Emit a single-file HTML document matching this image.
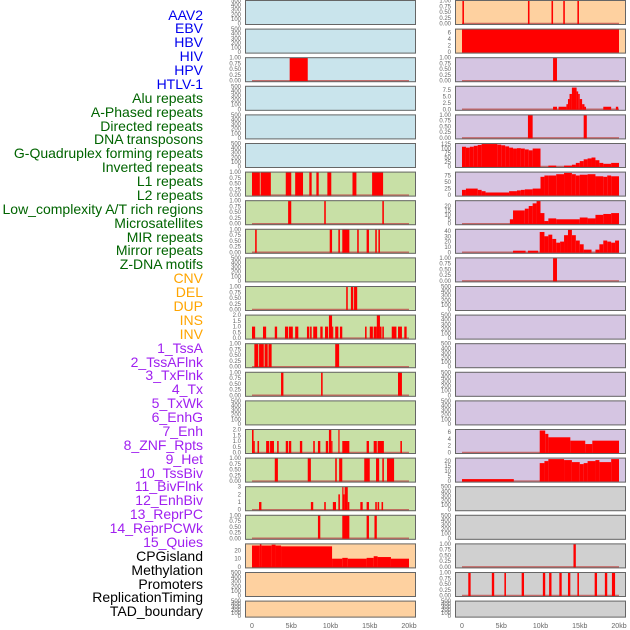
<!DOCTYPE html>
<html><head><meta charset="utf-8"><style>
body{margin:0;width:630px;height:630px;background:#fff;overflow:hidden;position:relative;font-family:"Liberation Sans",sans-serif}
.lb{position:absolute;right:427px;font-size:14px;line-height:14px;white-space:nowrap}
svg{position:absolute;left:0;top:0}
</style></head><body>
<div id="labels"></div>
<svg id="chart" width="630" height="630"></svg>
<script>
const labelNames=["AAV2","EBV","HBV","HIV","HPV","HTLV-1","Alu repeats","A-Phased repeats","Directed repeats","DNA transposons","G-Quadruplex forming repeats","Inverted repeats","L1 repeats","L2 repeats","Low_complexity A/T rich regions","Microsatellites","MIR repeats","Mirror repeats","Z-DNA motifs","CNV","DEL","DUP","INS","INV","1_TssA","2_TssAFlnk","3_TxFlnk","4_Tx","5_TxWk","6_EnhG","7_Enh","8_ZNF_Rpts","9_Het","10_TssBiv","11_BivFlnk","12_EnhBiv","13_ReprPC","14_ReprPCWk","15_Quies","CPGisland","Methylation","Promoters","ReplicationTiming","TAD_boundary"];
const labelGroups=[6,13,5,15,5];
const groupColors=["#0000ee","#006400","#ffa500","#a020f0","#000000"];
const xTicks=[0,5,10,15,20];
const xTickLabels=["0","5kb","10kb","15kb","20kb"];
const emptyTicks=[0,100,200,300,400,500];
const unitTicks=[0,0.25,0.5,0.75,1];
// data: [startKb,endKb,value]
const L2=[[4.8,7.1,1]];
const L6=[[0,1.0,1],[1.1,2.4,1],[4.3,5.0,1],[5.5,6.5,1],[7.3,7.6,1],[8.2,8.5,1],[9.6,10.1,1],[12.8,13.3,1],[15.3,16.7,1]];
const L7=[[4.6,5.0,1],[9.2,9.4,1],[16.6,16.8,1]];
const L8=[[0.4,0.6,1],[9.9,10.2,1],[11.0,11.2,1],[11.5,12.4,1],[13.4,13.6,1],[14.6,14.9,1],[15.7,15.9,1],[16.1,16.3,1]];
const L10=[[12.0,12.2,1],[12.6,12.9,1],[13.0,13.4,1]];
const L11=[[0,0.4,1],[1.4,1.8,1],[2.9,3.2,1],[4.2,4.6,1],[4.7,5.2,1],[5.5,5.9,1],[7.0,7.3,1],[7.4,7.6,1],[7.8,8.3,1],[8.7,9.0,1],[9.3,9.7,1],[9.8,10.2,2],[10.2,10.3,1],[10.6,11.0,1],[11.2,11.5,1],[14.4,14.6,1],[15.0,15.4,1],[15.5,15.9,1],[15.9,16.3,2],[16.3,16.5,1],[16.6,16.8,1],[17.8,18.4,1],[18.6,19.1,1],[19.4,19.7,1]];
const L12=[[0.3,0.8,1],[0.9,1.5,1],[1.6,2.0,1],[2.1,2.5,1],[10.6,11.1,1]];
const L13=[[3.7,4.0,1],[8.8,9.0,1],[18.6,19.1,1]];
const L15=[[0,0.2,2],[0.2,0.3,1],[0.7,0.9,1],[1.8,2.2,1],[2.3,2.8,1],[3.2,3.4,1],[4.3,4.6,1],[4.7,5.0,1],[6.1,6.4,1],[7.8,8.0,1],[8.4,8.7,1],[9.4,9.7,1],[9.8,10.1,2],[10.1,10.2,1],[11.0,11.1,2],[11.5,12.4,1],[14.6,14.9,1],[15.5,15.9,1],[16.0,16.8,1],[18.9,19.1,1]];
const L16=[[2.9,3.3,1],[7.1,7.5,1],[10.6,10.8,1],[11.1,11.5,1],[14.3,15.0,1],[15.8,16.2,1],[16.6,16.8,1],[17.2,18.1,1]];
const L17=[[0.9,1.2,1],[7.5,7.8,1],[9.2,9.4,1],[10.3,10.7,1],[11.0,11.2,2],[11.5,11.6,3],[11.6,11.8,2],[11.8,12.2,3],[12.2,12.4,1],[13.8,14.1,1],[14.6,14.9,1],[15.7,15.9,1],[16.0,16.2,1],[16.5,16.7,1]];
const L18=[[8.4,8.7,1],[11.5,12.4,1],[14.6,14.9,1],[15.6,15.9,1]];
const L19=[[0,1,26],[1,1.2,28],[1.2,2.5,26],[2.5,3,27],[3,3.7,26],[3.7,10.2,25],[10.2,11.5,10],[11.5,12.2,11],[12.2,14.6,10],[14.6,15.5,11],[15.5,16,13],[16,17.7,12],[17.7,20,10]];
const R0=[[0.05,0.25,1],[8.4,8.6,1],[11.4,11.6,1],[12.9,13.1,1],[14.7,14.9,1]];
const R1=[[0,20,7]];
const R2=[[11.6,12.1,1]];
const R3=[[11.6,12.1,1],[12.3,13.3,1],[13.3,13.5,2],[13.5,13.7,4],[13.7,14.0,6],[14.0,14.6,8.5],[14.6,14.8,7],[14.8,15.0,6],[15.0,15.3,4],[15.3,15.6,2],[15.6,15.8,1],[18.0,19.0,1],[19.6,19.9,1]];
const R4=[[8.4,9.0,1],[15.5,15.9,1]];
const R5=[[0,0.5,110],[0.5,1,105],[1,1.5,110],[1.5,2,115],[2,2.5,120],[2.5,4.5,125],[4.5,5,122],[5,5.5,118],[5.5,6,112],[6,6.5,105],[6.5,7,100],[7,7.5,102],[7.5,8,100],[8,8.5,95],[8.5,9,90],[9,10,100],[11,12,5],[13,14,5],[14,14.5,10],[14.5,15,20],[15,15.5,30],[15.5,16,40],[16,16.5,45],[16.5,17,50],[17,17.5,35],[17.5,18,20],[18,19,15],[19,20,20]];
const R6=[[0,0.5,20],[0.5,2,25],[2,2.5,20],[2.5,3,15],[3,6,10],[6,7,15],[7,7.5,18],[7.5,8,20],[8,9,22],[9,10,25],[10,10.5,70],[10.5,11,75],[11,12,75],[12,13,80],[13,14,85],[14,14.5,80],[14.5,15,75],[15,16,78],[16,17,80],[17,18,72],[18,18.5,70],[18.5,19,75],[19,20,72]];
const R7=[[6.1,6.5,5],[6.5,8,15],[8,8.5,17],[8.5,9,20],[9,9.5,23],[9.5,10,26],[10,10.5,12],[10.5,11,3],[11,12,6],[12,15,5],[15,16,7],[16,17,6],[17,18,10],[18,19,11],[19,20,12]];
const R8=[[6.5,8.1,3],[8.4,9.7,3],[9.9,10.5,38],[10.5,11,30],[11,11.5,33],[11.5,12,25],[12,12.5,18],[12.5,13,20],[13,13.5,32],[13.5,14,42],[14,14.5,32],[14.5,15,22],[15,15.5,15],[15.5,16.5,5],[17,17.5,5],[17.5,18,15],[18,18.5,22],[18.5,19,20],[19,19.5,18],[19.5,20,22]];
const R9=[[11.6,12.1,1]];
const R15=[[9.9,10.6,6.5],[10.6,11,5.5],[11,13.8,4.5],[13.8,15.7,3.5],[15.7,16.6,2.5],[16.6,20,3.5]];
const R16=[[0,6.6,2],[9.9,10.5,18],[10.5,11,20],[11,13,22],[13,14,21],[14,15,19],[15,15.5,17],[15.5,16,18],[16,17,20],[17,17.5,21],[17.5,19,19],[19,20,22]];
const R19=[[14.2,14.5,1]];
const R20=[[0.8,1.1,1],[3.8,4.1,1],[5.4,5.6,1],[7.6,7.9,1],[10.3,10.6,1],[11.1,11.4,1],[12.4,12.7,1],[13.5,13.8,1],[14.7,14.9,1],[16.9,17.2,1],[18.2,18.5,1],[19.1,19.5,1]];

const BG={b:"#c9e4ec",g:"#c8e0a6",o:"#fed1a0",p:"#d5c5e2",y:"#d0d0d0"};
const leftBg="bbbbbbgggggggggggggooo";
const rightBg="oopppppppppppppppyyyyy";
const leftData={2:[L2,unitTicks,1],6:[L6,unitTicks,1],7:[L7,unitTicks,1],8:[L8,unitTicks,1],10:[L10,unitTicks,1],11:[L11,[0,0.5,1,1.5,2],2],12:[L12,unitTicks,1],13:[L13,unitTicks,1],15:[L15,[0,0.5,1,1.5,2],2],16:[L16,unitTicks,1],17:[L17,[0,1,2,3],3],18:[L18,unitTicks,1],19:[L19,[0,10,20],28]};
const rightData={0:[R0,unitTicks,1],1:[R1,[0,2,4,6],7],2:[R2,unitTicks,1],3:[R3,[0,2.5,5,7.5],9],4:[R4,unitTicks,1],5:[R5,[0,25,50,75,100,125],128],6:[R6,[0,25,50,75],88],7:[R7,[0,5,10,15,20],26],8:[R8,[0,10,20,30,40],43],9:[R9,unitTicks,1],15:[R15,[0,2,4,6],6.8],16:[R16,[0,5,10,15,20],23],19:[R19,unitTicks,1],20:[R20,unitTicks,1]};

const NS="http://www.w3.org/2000/svg";
const svg=document.getElementById('chart');
function mk(t,a){const e=document.createElementNS(NS,t);for(const k in a)e.setAttribute(k,a[k]);svg.appendChild(e);return e;}
function fmt(v,ticks){const m=Math.max(...ticks);if(m<=1)return v.toFixed(2);if(ticks.some(t=>t%1))return v.toFixed(1);return String(v);}

// labels
const lab=document.getElementById('labels');
let gi=0,cnt=0;
labelNames.forEach((n,i)=>{
  while(cnt>=labelGroups[gi]){gi++;cnt=0;}
  cnt++;
  const d=document.createElement('div');
  d.className='lb';d.textContent=n;d.style.color=groupColors[gi];
  d.style.top=(15+i*13.88-7.5)+'px';
  
  
  lab.appendChild(d);
});

function panel(col,i){
  const px=col?455:245, x0=col?462:252, pw=171;
  const top=i*28.6, h=i===21?17:25;
  const xs=k=>x0+k*(157/20);
  const bg=BG[(col?rightBg:leftBg)[i]];
  const r=mk('rect',{x:px,y:top,width:pw,height:h,fill:bg});
  
  
  const dd=(col?rightData:leftData)[i];
  const ticks=dd?dd[1]:emptyTicks, ymax=dd?dd[2]:500;
  const y0=top+h-1.5, ys=v=>y0-(v/ymax)*(h-2);
  ticks.forEach(t=>{
    const tx=mk('text',{x:px-4,y:ys(t)+2,'font-size':6,fill:'#666','text-anchor':'end'});
    tx.textContent=dd?fmt(t,ticks):String(t);
    
    
  });
  if(dd){
    const bl=mk('line',{x1:xs(0),x2:xs(20),y1:y0,y2:y0,stroke:'#c0504d',opacity:0.8,'stroke-width':1.5});
    
    
    dd[0].forEach(s=>{
      const w=Math.max(1.2,xs(s[1])-xs(s[0]));
      const b=mk('rect',{x:xs(s[0]),y:ys(s[2]),width:w,height:y0-ys(s[2])+0.5,fill:'#ff0000'});
      
      
    });
  }
  const bd=mk('rect',{x:px+0.5,y:top+0.5,width:pw-1,height:h-1,fill:'none',stroke:'#666','stroke-width':1});
  
  
  if(i===21){
    xTicks.forEach((k,j)=>{
      const t=mk('text',{x:xs(k),y:628,'font-size':7,fill:'#666','text-anchor':'middle'});
      t.textContent=xTickLabels[j];
      
      
    });
  }
}
for(let i=0;i<22;i++){panel(0,i);panel(1,i);}
</script>
</body></html>
